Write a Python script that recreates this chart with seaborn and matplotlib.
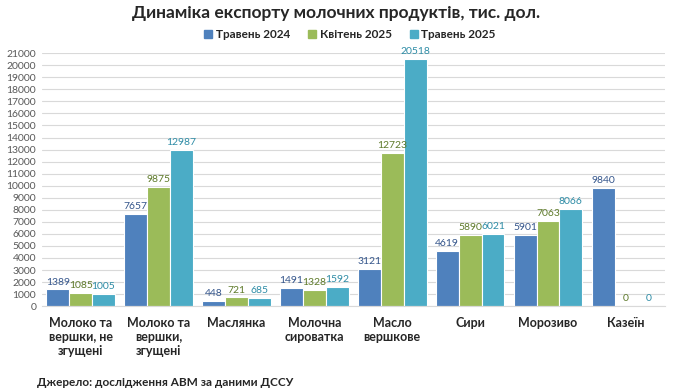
import pandas as pd
import matplotlib.pyplot as plt
import seaborn as sns

categories = ['Молоко та\nвершки, не\nзгущені', 'Молоко та\nвершки,\nзгущені', 'Маслянка',
              'Молочна\nсироватка', 'Масло\nвершкове', 'Сири', 'Морозиво', 'Казеїн']
series = ['Травень 2024', 'Квітень 2025', 'Травень 2025']
may_2024 = [1389, 7657, 448, 1491, 3121, 4619, 5901, 9840]
apr_2025 = [1085, 9875, 721, 1328, 12723, 5890, 7063, 0]
may_2025 = [1005, 12987, 685, 1592, 20518, 6021, 8066, 0]

colors = ['#4F81BD', '#9BBB59', '#4BACC6']
label_colors = ['#34558B', '#5E7A2A', '#2E8CA6']

df = pd.DataFrame({
    'cat': categories * 3,
    'series': [series[0]] * 8 + [series[1]] * 8 + [series[2]] * 8,
    'value': may_2024 + apr_2025 + may_2025,
})

sns.set_style('white')
plt.rcParams['font.family'] = ['Lato', 'DejaVu Sans']

fig = plt.figure(figsize=(6.73, 3.91), dpi=100)
ax = fig.add_axes([0.062, 0.217, 0.926, 0.647])

sns.barplot(data=df, x='cat', y='value', hue='series', palette=colors, saturation=1, width=0.88,
            edgecolor='white', linewidth=0.8, ax=ax, legend=False)

for cont, lc in zip(ax.containers, label_colors):
    labels = [f'{int(v)}' for v in cont.datavalues]
    ax.bar_label(cont, labels=labels, color=lc, fontsize=7.5, padding=2)

ax.set_ylim(0, 21000)
ax.set_yticks(range(0, 21001, 1000))
ax.tick_params(axis='y', labelsize=7.5, labelcolor='#595959', length=0, pad=4)
ax.tick_params(axis='x', labelsize=9, length=0, pad=8)
for t in ax.get_xticklabels():
    t.set_fontweight('bold')
    t.set_verticalalignment('top')
ax.yaxis.grid(True, color='#D9D9D9', linewidth=0.8)
ax.set_axisbelow(True)
for s in ['top', 'right', 'left']:
    ax.spines[s].set_visible(False)
ax.spines['bottom'].set_color('#D9D9D9')
ax.set_xlabel('')
ax.set_ylabel('')
ax.set_xlim(-0.5, 7.5)

fig.text(0.5, 0.968, 'Динаміка експорту молочних продуктів, тис. дол.', ha='center', va='center',
         fontsize=12.5, fontweight='bold')

handles = [plt.Rectangle((0, 0), 1, 1, color=c) for c in colors]
fig.legend(handles, series, loc='center', bbox_to_anchor=(0.52, 0.912), ncol=3, frameon=False,
           prop={'weight': 'bold', 'size': 8.5}, handlelength=0.7, handleheight=0.7,
           handletextpad=0.3, columnspacing=1.5)

fig.text(0.055, 0.022, 'Джерело: дослідження АВМ за даними ДССУ', ha='left', va='center',
         fontsize=8.5, fontweight='bold')

fig.savefig('out.png', dpi=100)
